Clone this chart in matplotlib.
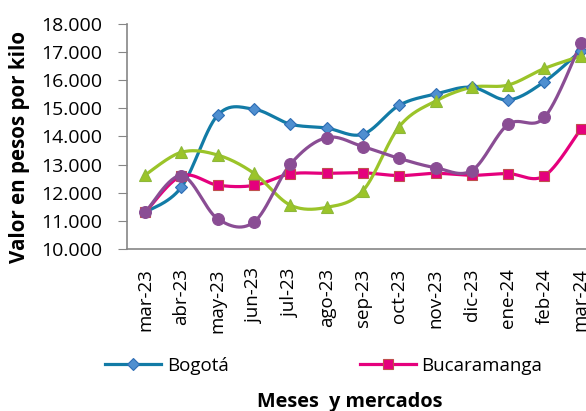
import numpy as np
import matplotlib.pyplot as plt

meses = ['mar-23', 'abr-23', 'may-23', 'jun-23', 'jul-23', 'ago-23', 'sep-23',
         'oct-23', 'nov-23', 'dic-23', 'ene-24', 'feb-24', 'mar-24']

bogota = [11300, 12200, 14760, 14970, 14440, 14300, 14080, 15110, 15510, 15750, 15300, 15950, 17050]
bucaramanga = [11300, 12600, 12270, 12260, 12670, 12690, 12710, 12610, 12690, 12620, 12680, 12600, 14260]
verde = [12630, 13440, 13340, 12690, 11560, 11480, 12070, 14350, 15260, 15750, 15830, 16420, 16860]
morado = [11300, 12610, 11070, 10960, 13010, 13960, 13640, 13220, 12890, 12790, 14430, 14680, 17310]


def suavizar(y, n=30):
    # curva tipo Excel: Bezier con tangentes de Catmull-Rom
    x = np.arange(len(y), dtype=float)
    y = np.asarray(y, dtype=float)
    xs, ys = [], []
    for i in range(len(y) - 1):
        x0, y0 = x[max(i - 1, 0)], y[max(i - 1, 0)]
        x3, y3 = x[min(i + 2, len(y) - 1)], y[min(i + 2, len(y) - 1)]
        p1 = np.array([x[i], y[i]])
        p2 = np.array([x[i + 1], y[i + 1]])
        c1 = p1 + (p2 - np.array([x0, y0])) / 6
        c2 = p2 - (np.array([x3, y3]) - p1) / 6
        t = np.linspace(0, 1, n)[:, None]
        pts = ((1 - t) ** 3) * p1 + 3 * ((1 - t) ** 2) * t * c1 + 3 * (1 - t) * t ** 2 * c2 + t ** 3 * p2
        xs.extend(pts[:, 0])
        ys.extend(pts[:, 1])
    return np.array(xs), np.array(ys)


plt.rcParams['font.family'] = ['Open Sans', 'DejaVu Sans']

fig = plt.figure(figsize=(5.86, 4.11), dpi=100)
ax = fig.add_axes([0.2167, 0.3942, 0.8053, 0.5474])

series = [
    (bogota, 'Bogotá', '#127ba6', 'D', '#4f8fd0', '#2e6db4', 6),
    (bucaramanga, 'Bucaramanga', '#e5007d', 's', '#e5007d', '#c0504d', 7),
    (verde, 'Medellín', '#9bc429', '^', '#9bc429', '#8db83a', 8),
    (morado, 'Cali', '#8a4d94', 'o', '#8a4d94', '#8a4d94', 8.5),
]

x = np.arange(len(meses))
handles = []
for vals, nombre, color, mk, fc, ec, ms in series:
    xs, ys = suavizar(vals)
    ax.plot(xs, ys, color=color, lw=2.3, clip_on=False, zorder=2)
    ax.plot(x, vals, linestyle='none', marker=mk, markersize=ms, markerfacecolor=fc,
            markeredgecolor=ec, markeredgewidth=0.8, clip_on=False, zorder=3)
    h, = ax.plot([], [], color=color, lw=2.3, marker=mk, markersize=ms,
                 markerfacecolor=fc, markeredgecolor=ec, markeredgewidth=0.8)
    handles.append(h)

ax.set_xlim(-0.5, len(meses) - 0.5)
ax.set_ylim(10000, 18000)
ax.set_yticks(np.arange(10000, 18001, 1000))
ax.set_yticklabels([f'{v:,.0f}'.replace(',', '.') for v in range(10000, 18001, 1000)])
ax.set_xticks(x)
ax.set_xticklabels(meses, rotation=90)

for s in ['top', 'right']:
    ax.spines[s].set_visible(False)
for s in ['left', 'bottom']:
    ax.spines[s].set_color('#868686')
    ax.spines[s].set_linewidth(1.2)
ax.tick_params(axis='y', length=6.5, color='#868686', labelsize=14, pad=11)
ax.tick_params(axis='x', length=0, labelsize=13.5, pad=14)

ax.set_ylabel('Valor en pesos por kilo', fontsize=14.8, fontweight='bold')
ax.yaxis.set_label_coords(-0.205, 0.453)
fig.text(0.597, 0.022, 'Meses  y mercados', ha='center', va='center', fontsize=14.3, fontweight='bold')

fig.legend(handles[:2], ['Bogotá', 'Bucaramanga'], loc='center left',
           bbox_to_anchor=(0.15, 0.11), ncol=2, frameon=False, fontsize=13.5,
           handlelength=3.0, columnspacing=7.0, handletextpad=0.3)

fig.savefig('out.png', dpi=100)
